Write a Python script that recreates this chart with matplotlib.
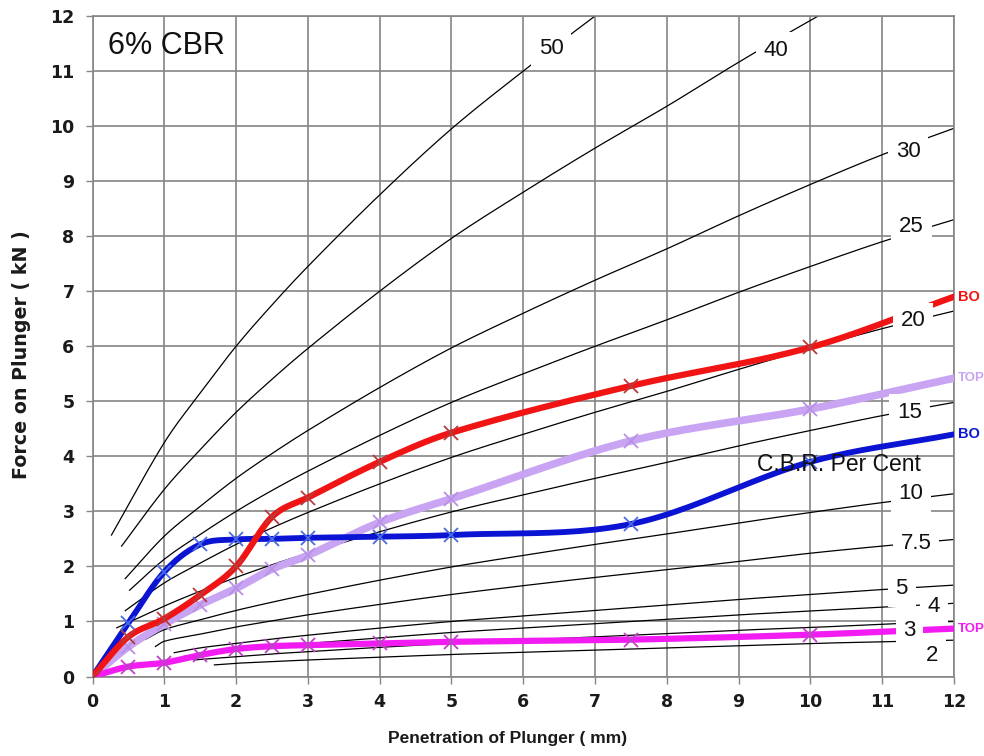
import numpy as np
import matplotlib
matplotlib.use("Agg")
import matplotlib.pyplot as plt

# ---------------- data ----------------
pen = [0, 0.5, 1, 1.5, 2, 2.5, 3, 4, 5, 7.5, 10, 12]
red_bottom = [0, 0.72, 1.05, 1.48, 2.0, 2.9, 3.25, 3.9, 4.43, 5.28, 5.98, 6.9]
lav_top = [0, 0.54, 0.95, 1.3, 1.6, 1.95, 2.2, 2.8, 3.23, 4.28, 4.86, 5.42]
blue_bottom = [0, 0.97, 1.9, 2.4, 2.49, 2.5, 2.52, 2.54, 2.57, 2.77, 3.9, 4.4]
mag_top = [0, 0.18, 0.25, 0.39, 0.5, 0.55, 0.57, 0.6, 0.63, 0.67, 0.76, 0.87]

# standard CBR reference curves (black)
cbr_grid = [1, 1.5, 2, 2.5, 3, 4, 5, 6, 7, 8, 9, 10, 11, 12]
cbr50 = [4.25, 5.15, 6.0, 6.75, 7.45, 8.75, 9.95, 11.0, 12.0, 12.95, None, None, None, None]
cbr40 = [3.4, 4.12, 4.8, 5.4, 5.96, 7.0, 7.96, 8.8, 9.6, 10.36, 11.16, 11.92, 12.64, None]
cbr30 = [2.55, 3.09, 3.6, 4.05, 4.47, 5.25, 5.97, 6.6, 7.2, 7.77, 8.37, 8.94, 9.48, 9.96]
cbr25 = [2.13, 2.58, 3.0, 3.38, 3.73, 4.38, 4.98, 5.5, 6.0, 6.48, 6.98, 7.45, 7.9, 8.3]
cbr20 = [1.7, 2.06, 2.4, 2.7, 2.98, 3.5, 3.98, 4.4, 4.8, 5.18, 5.58, 5.96, 6.32, 6.64]
cbr15 = [1.28, 1.55, 1.8, 2.03, 2.24, 2.63, 2.99, 3.3, 3.6, 3.89, 4.19, 4.47, 4.74, 4.98]
cbr10 = [0.85, 1.03, 1.2, 1.35, 1.49, 1.75, 1.99, 2.2, 2.4, 2.59, 2.79, 2.98, 3.16, 3.32]
cbr7_5 = [0.64, 0.77, 0.9, 1.01, 1.12, 1.31, 1.49, 1.65, 1.8, 1.94, 2.09, 2.24, 2.37, 2.49]
cbr5 = [None, 0.52, 0.6, 0.68, 0.75, 0.88, 1.0, 1.1, 1.2, 1.3, 1.4, 1.49, 1.58, 1.66]
cbr4 = [None, 0.41, 0.48, 0.54, 0.6, 0.7, 0.8, 0.88, 0.96, 1.04, 1.12, 1.19, 1.26, 1.33]
cbr3 = [None, None, 0.36, 0.41, 0.45, 0.53, 0.6, 0.66, 0.72, 0.78, 0.84, 0.89, 0.95, 1.0]
cbr2 = [None, None, 0.24, 0.27, 0.3, 0.35, 0.4, 0.44, 0.48, 0.52, 0.56, 0.6, 0.63, 0.66]
cbr_curves = [cbr50, cbr40, cbr30, cbr25, cbr20, cbr15, cbr10, cbr7_5, cbr5, cbr4, cbr3, cbr2]
cbr_start_x = [0.26, 0.40, 0.45, 0.51, 0.45, 0.33, 0.73, 0.87, 1.13, 1.25, 1.40, 1.69]
cbr_start_y = [2.56, 2.36, 1.77, 1.56, 1.19, 0.88, 0.67, 0.54, 0.43, 0.36, 0.30, 0.21]
cbr_names = ["50", "40", "30", "25", "20", "15", "10", "7.5", "5", "4", "3", "2"]
cbr_label_x = [6.39, 9.52, 11.36, 11.41, 11.43, 11.38, 11.40, 11.47, 11.27, 11.72, 11.38, 11.70]
cbr_label_y = [11.41, 11.38, 9.54, 8.17, 6.46, 4.80, 3.32, 2.41, 1.59, 1.28, 0.83, 0.39]

ticks = list(range(13))


def smooth(x, y, n=24):
    """cubic Hermite path through the points (Excel-like smoothed line)"""
    x = np.asarray(x, float)
    y = np.asarray(y, float)
    m = np.empty_like(y)
    if len(x) > 2:
        m[1:-1] = (y[2:] - y[:-2]) / (x[2:] - x[:-2])
    m[0] = (y[1] - y[0]) / (x[1] - x[0])
    m[-1] = (y[-1] - y[-2]) / (x[-1] - x[-2])
    xs, ys = [], []
    for i in range(len(x) - 1):
        h = x[i + 1] - x[i]
        t = np.linspace(0, 1, n, endpoint=(i == len(x) - 2))
        h00 = 2 * t**3 - 3 * t**2 + 1
        h10 = t**3 - 2 * t**2 + t
        h01 = -2 * t**3 + 3 * t**2
        h11 = t**3 - t**2
        xs.append(x[i] + t * h)
        ys.append(h00 * y[i] + h10 * h * m[i] + h01 * y[i + 1] + h11 * h * m[i + 1])
    return np.concatenate(xs), np.concatenate(ys)


fig = plt.figure(figsize=(9.84, 7.56), dpi=100)
W, H = 984, 756
ax = fig.add_axes([92.5 / W, 1 - 676.5 / H, (954 - 92.5) / W, (676.5 - 16) / H])
ax.set_xlim(0, 12)
ax.set_ylim(0, 12)
ax.set_xticks(ticks)
ax.set_yticks(ticks)
grid_c = "#858585"
ax.grid(True, color=grid_c, lw=1.2, zorder=0)
ax.set_axisbelow(True)
for s in ax.spines.values():
    s.set_color(grid_c)
    s.set_linewidth(1.2)
ax.tick_params(axis="both", length=5, width=1.0, color=grid_c, labelsize=12.5,
               labelcolor="#1a1a1a")
ax.tick_params(axis="x", pad=7)
ax.tick_params(axis="y", pad=8)
for lab in ax.get_xticklabels() + ax.get_yticklabels():
    lab.set_fontweight("bold")
    lab.set_family("DejaVu Sans")

# black CBR curves
for curve, sx, sy in zip(cbr_curves, cbr_start_x, cbr_start_y):
    xs = [sx] + [g for g, v in zip(cbr_grid, curve) if v is not None and g > sx]
    ys = [sy] + [v for g, v in zip(cbr_grid, curve) if v is not None and g > sx]
    px, py = smooth(xs, ys)
    ax.plot(px, py, color="black", lw=0.9, zorder=2, solid_capstyle="butt")

# measured series
series = [
    (lav_top, "#c9a4f3", "#b890e6", 5.5, "TOP", 9.5),
    (mag_top, "#f21cf2", "#c040c8", 4.5, "TOP", 9.5),
    (blue_bottom, "#0a14d2", "#4a6ae6", 4.2, "BO", 10.5),
    (red_bottom, "#f01414", "#b83a3a", 4.5, "BO", 10.5),
]
for k, (vals, col, mcol, lw, name, fs) in enumerate(series):
    px, py = smooth(pen, vals)
    ax.plot(px, py, color=col, lw=lw, zorder=3 + k, solid_capstyle="round")
    ax.plot(pen[:-1], vals[:-1], ls="none", marker="x", ms=10.5, mew=1.3,
            color=mcol, zorder=3.5 + k)
    ax.text(12.05, vals[-1], name, color=col, fontsize=fs, fontweight="bold",
            family="Liberation Sans", ha="left", va="center", clip_on=False)

# CBR labels with white boxes
for name, lx, ly in zip(cbr_names, cbr_label_x, cbr_label_y):
    ax.text(lx, ly, name, fontsize=16, family="Liberation Sans", ha="center",
            va="center", color="#111111", zorder=10,
            bbox=dict(boxstyle="square,pad=0.35", fc="white", ec="none"))

ax.text(0.22, 11.45, "6% CBR", fontsize=22, family="Liberation Sans",
        ha="left", va="center", color="#111111", zorder=10)
ax.text(10.4, 3.85, "C.B.R. Per Cent", fontsize=16.5, family="Liberation Sans",
        ha="center", va="center", color="#111111", zorder=10)

fig.text(508 / W, 1 - 738 / H, "Penetration of Plunger ( mm)", ha="center",
         va="center", fontsize=12.5, fontweight="bold",
         family=["Liberation Sans Narrow", "Liberation Sans"], color="#1a1a1a")
fig.text(22 / W, 1 - 355 / H, "Force on Plunger ( kN )", ha="center",
         va="center", rotation=90, fontsize=13.7, fontweight="bold",
         family="DejaVu Sans", color="#1a1a1a")

fig.savefig("out.png", dpi=100)
